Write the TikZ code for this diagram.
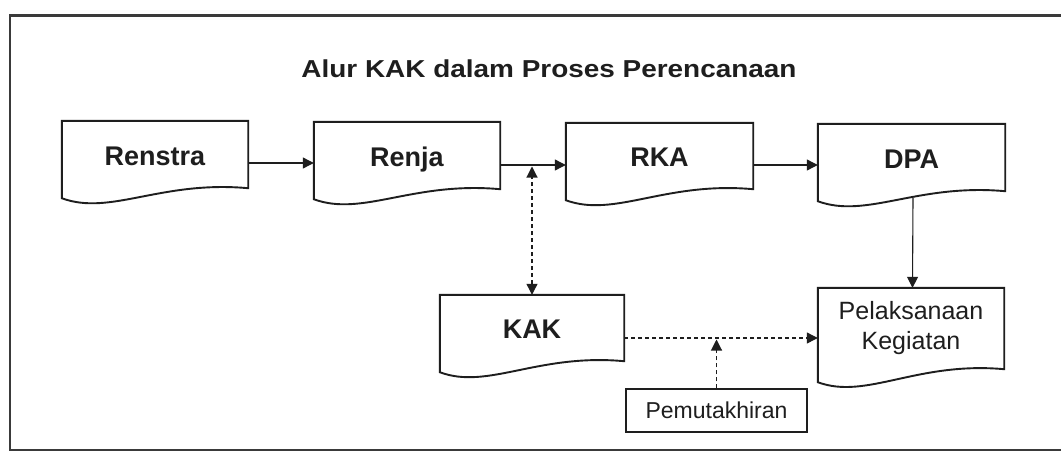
\documentclass[tikz,border=0pt]{standalone}
\usepackage{fontspec}
\setmainfont{Liberation Sans}
\usetikzlibrary{arrows.meta,calc}
\definecolor{inkc}{HTML}{1E1E1E}
\definecolor{framec}{HTML}{3A3A3A}
\newcommand\docoutline[2]{%
  \draw[boxline] (#1.south east) -- (#1.north east) -- (#1.north west) -- ($(#1.south west)+(0,#2)$)
    .. controls ($(#1.south west)!0.26!(#1.south east)+(0,{#2+18})$) and ($(#1.south west)!0.53!(#1.south east)+(0,-8)$) .. (#1.south east) -- cycle;}
\tikzset{
  docnode/.style={inner sep=0pt, draw=none, text=inkc, font=\fontsize{27}{30}\selectfont\bfseries},
  oneline/.style={text height=21pt, text depth=0pt},
  boxline/.style={draw=inkc, line width=1.9pt, line join=miter},
  conn/.style={draw=inkc, line width=1.1pt, -{Triangle[length=11pt,width=11pt]}},
  dconn/.style={draw=inkc, line width=1.1pt, dash pattern=on 4pt off 3pt, -{Triangle[length=11pt,width=11pt]}},
  dconnboth/.style={draw=inkc, line width=1.1pt, dash pattern=on 4pt off 3pt, {Triangle[length=11pt,width=11pt]}-{Triangle[length=11pt,width=11pt]}},
  plainbox/.style={draw=inkc, line width=1.2pt, inner sep=0pt, text=inkc, font=\fontsize{23}{26}\selectfont}
}
\begin{document}
\begin{tikzpicture}[x=1pt,y=-1pt]
\useasboundingbox (0,0) rectangle (1061,453);
\fill[white] (0,0) rectangle (1061,453);
% outer frame (right side off the page)
\draw[framec, line width=2.2pt] (1061,15.5) -- (10,15.5) -- (10,450) -- (1061,450);
% title
\node[anchor=base, text=inkc, font=\fontsize{24.5}{28}\selectfont\bfseries] (title) at (549,77)
  {\scalebox{1.14}[1]{Alur KAK dalam Proses Perencanaan}};
% document boxes
\node[docnode, oneline, minimum width=186pt, minimum height=67pt] (renstra) at (155,154.5) {Renstra};
\node[docnode, oneline, minimum width=186pt, minimum height=67pt] (renja) at (407,155.5) {Renja};
\node[docnode, oneline, minimum width=187pt, minimum height=66pt] (rka) at (659.5,156) {RKA};
\node[docnode, oneline, minimum width=187pt, minimum height=67pt] (dpa) at (911.5,157.5) {DPA};
\node[docnode, oneline, minimum width=184pt, minimum height=66pt] (kak) at (532,328) {KAK};
\node[docnode, minimum width=186pt, minimum height=81pt, align=center,
      font=\fontsize{25}{30}\selectfont] (pel) at (911,328.5) {Pelaksanaan\\Kegiatan};
\docoutline{renstra}{10}
\docoutline{renja}{10}
\docoutline{rka}{11}
\docoutline{dpa}{10}
\docoutline{kak}{11}
\docoutline{pel}{13}
\node[plainbox, minimum width=181pt, minimum height=43pt] (pem) at (716.5,410.5) {Pemutakhiran};
% connectors
\draw[conn] ([yshift=-8.5pt]renstra.east) -- ([yshift=-8.5pt]renstra.east -| renja.west);
\draw[conn] ([yshift=-9.5pt]renja.east) -- ([yshift=-9.5pt]renja.east -| rka.west);
\draw[conn] ([yshift=-9pt]rka.east) -- ([yshift=-9pt]rka.east -| dpa.west);
\draw[conn] ([xshift=1.5pt,yshift=-7pt]dpa.south) -- ([xshift=1.5pt]pel.north);
\draw[dconnboth] (kak.north) -- ([yshift=-11pt]renja.east -| kak.north);
\draw[dconn] ([yshift=-10pt]kak.east) -- ([yshift=-10pt]kak.east -| pel.west);
\draw[dconn] (pem.north) -- ([yshift=-11.5pt]kak.east -| pem.north);
\end{tikzpicture}
\end{document}
